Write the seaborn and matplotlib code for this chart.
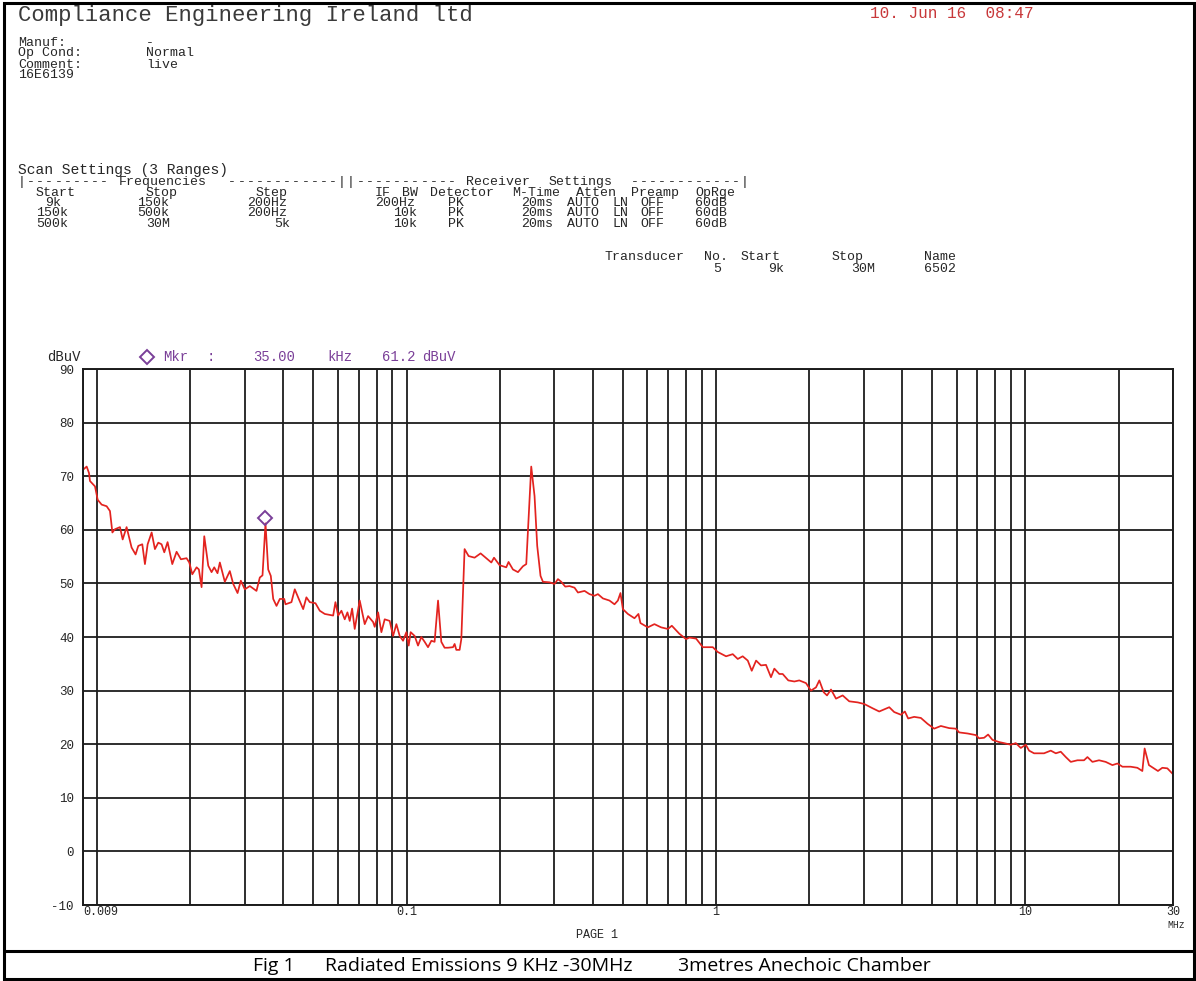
import matplotlib
matplotlib.use("Agg")
import matplotlib.pyplot as plt
from matplotlib.lines import Line2D
from matplotlib.patches import Rectangle
from matplotlib.ticker import NullFormatter
import seaborn as sns

# measured trace, frequency in MHz, level in dBuV
freq_mhz = [
    0.00900, 0.00925, 0.00941, 0.00948, 0.00984, 0.01004, 0.01034, 0.01073, 0.01100, 0.01120,
    0.01141, 0.01185, 0.01209, 0.01245, 0.01292, 0.01331, 0.01358, 0.01399, 0.01427, 0.01456,
    0.01500, 0.01537, 0.01576, 0.01615, 0.01648, 0.01689, 0.01749, 0.01806, 0.01865, 0.01945,
    0.01985, 0.02030, 0.02096, 0.02132, 0.02175, 0.02219, 0.02286, 0.02343, 0.02390, 0.02449,
    0.02492, 0.02586, 0.02684, 0.02753, 0.02843, 0.02913, 0.03001, 0.03115, 0.03273, 0.03355,
    0.03423, 0.03500, 0.03571, 0.03641, 0.03707, 0.03799, 0.03894, 0.04023, 0.04062, 0.04246,
    0.04352, 0.04484, 0.04633, 0.04745, 0.04866, 0.05077, 0.05242, 0.05440, 0.05791, 0.05890,
    0.06010, 0.06159, 0.06312, 0.06440, 0.06551, 0.06668, 0.06799, 0.07057, 0.07324, 0.07511,
    0.07795, 0.07889, 0.08091, 0.08291, 0.08498, 0.08819, 0.09045, 0.09270, 0.09500, 0.09743,
    0.09984, 0.1016, 0.1031, 0.1062, 0.1089, 0.1116, 0.1144, 0.1173, 0.1203, 0.1232,
    0.1264, 0.1295, 0.1327, 0.1361, 0.1413, 0.1430, 0.1448, 0.1484, 0.1503, 0.1540,
    0.1587, 0.1659, 0.1735, 0.1810, 0.1879, 0.1917, 0.1998, 0.2100, 0.2136, 0.2207,
    0.2291, 0.2378, 0.2437, 0.2529, 0.2592, 0.2644, 0.2710, 0.2759, 0.2898, 0.3008,
    0.3085, 0.3161, 0.3257, 0.3363, 0.3490, 0.3580, 0.3760, 0.3902, 0.4050, 0.4154,
    0.4311, 0.4527, 0.4699, 0.4819, 0.4913, 0.5002, 0.5191, 0.5452, 0.5616, 0.5700,
    0.6022, 0.6325, 0.6648, 0.6989, 0.7200, 0.7616, 0.8007, 0.8206, 0.8626, 0.9066,
    0.9766, 1.0135, 1.078, 1.133, 1.176, 1.220, 1.267, 1.305, 1.348, 1.398,
    1.451, 1.506, 1.544, 1.602, 1.643, 1.713, 1.792, 1.859, 1.954, 2.028,
    2.105, 2.158, 2.229, 2.285, 2.354, 2.443, 2.567, 2.696, 2.871, 3.015,
    3.209, 3.370, 3.498, 3.631, 3.767, 3.960, 4.079, 4.180, 4.371, 4.594,
    4.830, 5.073, 5.332, 5.671, 5.961, 6.108, 6.502, 6.915, 7.087, 7.356,
    7.578, 7.830, 8.224, 8.535, 8.972, 9.311, 9.665, 10.03, 10.28, 10.67,
    11.49, 12.08, 12.54, 13.01, 13.51, 14.02, 14.73, 15.47, 15.87, 16.47,
    17.30, 18.18, 19.11, 19.84, 20.59, 21.89, 23.01, 23.88, 24.29, 25.08,
    26.03, 26.82, 27.71, 28.76, 30.00,
]
level_dbuv = [
    71.2, 71.8, 70.6, 69.1, 68.1, 65.6, 64.7, 64.4, 63.5, 59.5,
    60.1, 60.5, 58.2, 60.5, 56.7, 55.4, 57.0, 57.3, 53.6, 57.3,
    59.5, 56.4, 57.6, 57.3, 55.8, 57.7, 53.6, 55.9, 54.5, 54.7,
    53.9, 51.7, 53.0, 52.6, 49.3, 58.8, 53.3, 52.1, 53.0, 51.9,
    53.9, 50.3, 52.3, 49.9, 48.2, 50.5, 48.9, 49.5, 48.6, 51.1,
    51.5, 61.2, 52.6, 51.4, 47.1, 45.8, 47.1, 47.1, 46.1, 46.5,
    48.9, 47.1, 45.2, 47.4, 46.5, 46.3, 44.9, 44.3, 44.0, 46.5,
    44.0, 44.9, 43.3, 44.6, 43.0, 45.3, 41.5, 46.8, 42.4, 43.9,
    42.8, 41.9, 44.6, 40.9, 43.3, 43.0, 40.2, 42.4, 40.2, 39.3,
    40.9, 38.4, 40.9, 40.2, 38.4, 40.0, 39.1, 38.1, 39.3, 39.1,
    46.8, 39.1, 38.0, 38.0, 38.1, 38.7, 37.6, 37.6, 39.6, 56.4,
    55.1, 54.8, 55.6, 54.7, 53.9, 54.8, 53.4, 53.0, 54.0, 52.6,
    52.1, 53.2, 53.6, 71.8, 66.3, 57.0, 51.4, 50.3, 50.2, 49.9,
    50.8, 50.3, 49.4, 49.5, 49.2, 48.3, 48.6, 48.0, 47.7, 48.0,
    47.2, 46.8, 46.1, 46.8, 48.2, 45.2, 44.3, 43.5, 44.3, 42.6,
    41.8, 42.4, 41.8, 41.5, 42.1, 40.6, 39.6, 39.9, 39.7, 38.1,
    38.1, 37.2, 36.4, 36.8, 35.9, 36.4, 35.6, 33.7, 35.6, 34.7,
    34.8, 32.5, 34.1, 33.1, 33.1, 31.9, 31.7, 31.9, 31.4, 30.0,
    30.6, 31.9, 29.7, 29.1, 30.2, 28.5, 29.1, 28.0, 27.8, 27.5,
    26.7, 26.1, 26.5, 26.9, 26.0, 25.5, 26.1, 24.8, 25.1, 24.9,
    23.8, 22.9, 23.4, 23.0, 22.9, 22.2, 22.0, 21.7, 21.1, 21.2,
    21.8, 20.8, 20.4, 20.2, 19.9, 20.2, 19.3, 19.9, 18.8, 18.3,
    18.3, 18.8, 18.3, 18.6, 17.6, 16.7, 17.0, 17.0, 17.6, 16.7,
    17.0, 16.7, 16.1, 16.4, 15.8, 15.8, 15.6, 15.0, 19.2, 16.1,
    15.5, 15.0, 15.6, 15.5, 14.4,
]

marker_freq = 0.035
marker_symbol_level = 62.2

x_tick_values = [0.009, 0.1, 1, 10, 30]
x_tick_labels = ["0.009", "0.1", "1", "10", "30"]
y_tick_values = [-10, 0, 10, 20, 30, 40, 50, 60, 70, 80, 90]

# printout rows as (character column, text) on the receiver's fixed text grid
info_rows = [
    [(0, "Manuf:"), (14, "-")],
    [(0, "Op Cond:"), (14, "Normal")],
    [(0, "Comment:"), (14, "live")],
    [(0, "16E6139")],
]
scan_rows = [
    [(0, "Scan Settings (3 Ranges)")],
    [(0, "|---------"), (11, "Frequencies"), (23, "------------||-----------"),
     (49, "Receiver"), (58, "Settings"), (67, "------------|")],
    [(2, "Start"), (14, "Stop"), (26, "Step"), (39, "IF"), (42, "BW"), (45, "Detector"),
     (54, "M-Time"), (61, "Atten"), (67, "Preamp"), (74, "OpRge")],
    [(3, "9k"), (13, "150k"), (25, "200Hz"), (39, "200Hz"), (47, "PK"),
     (55, "20ms"), (60, "AUTO"), (65, "LN"), (68, "OFF"), (74, "60dB")],
    [(2, "150k"), (13, "500k"), (25, "200Hz"), (41, "10k"), (47, "PK"),
     (55, "20ms"), (60, "AUTO"), (65, "LN"), (68, "OFF"), (74, "60dB")],
    [(2, "500k"), (14, "30M"), (28, "5k"), (41, "10k"), (47, "PK"),
     (55, "20ms"), (60, "AUTO"), (65, "LN"), (68, "OFF"), (74, "60dB")],
]
transducer_rows = [
    [(64, "Transducer"), (75, "No."), (79, "Start"), (89, "Stop"), (99, "Name")],
    [(76, "5"), (82, "9k"), (91, "30M"), (99, "6502")],
]
marker_tokens = [(163, "Mkr"), (207, ":"), (253, "35.00"), (327, "kHz"), (382, "61.2"), (422, "dBuV")]

W, H = 1196, 981
MONO = "Liberation Mono"
TRACE = "#e3231f"
PURPLE = "#7a3f98"
INK = "#262626"
GRID_X0, GRID_CW = 18, 9.15

sns.set_theme(style="white")
plt.rcParams["font.family"] = ["Liberation Mono", "DejaVu Sans"]

fig = plt.figure(figsize=(W / 100, H / 100), dpi=100)
fig.patch.set_facecolor("white")


def put(px, py, s, va="center", **kw):
    kw.setdefault("ha", "left")
    kw.setdefault("color", INK)
    kw.setdefault("family", MONO)
    fig.text(px / W, 1 - py / H, s, va=va, **kw)


def put_row(py, row, size=9.5, **kw):
    # the printout font is wider than Liberation Mono at this height, so each
    # word sits on the grid; dashes and bars go one character at a time.
    # whole-pixel baselines keep the words of one row level
    base = round(py + 3.5)
    for col, token in row:
        if set(token) <= set("-|"):
            for k, ch in enumerate(token):
                put(round(GRID_X0 + (col + k) * GRID_CW), base, ch, va="baseline", fontsize=size, **kw)
        else:
            put(round(GRID_X0 + col * GRID_CW), base, token, va="baseline", fontsize=size, **kw)


ax = fig.add_axes([83 / W, 1 - 905 / H, (1173 - 83) / W, (905 - 369) / H])

sns.lineplot(x=freq_mhz, y=level_dbuv, sort=False, estimator=None,
             color=TRACE, linewidth=1.25, ax=ax)
ax.plot([marker_freq], [marker_symbol_level], marker="D", ms=7.5, mfc="none",
        mec=PURPLE, mew=1.4, ls="none")

ax.set_xscale("log")
ax.set_xlim(0.009, 30)
ax.set_ylim(-10, 90)

minor_lines = [m * 10.0 ** e for e in (-2, -1, 0, 1) for m in range(1, 10)
               if 0.009 < m * 10.0 ** e < 30 and m * 10.0 ** e not in x_tick_values]
ax.set_xticks(x_tick_values)
ax.set_xticklabels(x_tick_labels)
ax.set_xticks(minor_lines, minor=True)
ax.xaxis.set_minor_formatter(NullFormatter())
ax.set_yticks(y_tick_values)
ax.set_yticklabels([str(v) for v in y_tick_values])
ax.grid(True, which="both", color="#1c1c1c", linewidth=1.3)
ax.tick_params(axis="both", which="both", length=0)
ax.tick_params(axis="y", pad=6.5, labelsize=9, labelcolor=INK)
ax.tick_params(axis="x", pad=1.0, labelsize=8.5, labelcolor=INK)
ax.get_xticklabels()[0].set_horizontalalignment("left")
for sp in ax.spines.values():
    sp.set_visible(True)
    sp.set_color("#1c1c1c")
    sp.set_linewidth(1.4)
ax.set_xlabel("")
ax.set_ylabel("")

# header text
put(18, 16, "Compliance Engineering Ireland ltd", fontsize=16, color="#3a3a3a")
put(870, 14, "10. Jun 16  08:47", fontsize=11.5, color="#c8383a")
for i, row in enumerate(info_rows):
    put_row(42 + i * 11, row)
for i, row in enumerate(scan_rows):
    put_row(171 + i * 10.5, row, size=10.5 if i == 0 else 9.5)
for i, row in enumerate(transducer_rows):
    put_row(257 + i * 11.5, row)

# marker readout above the plot
fig.add_artist(Line2D([147 / W], [1 - 357 / H], marker="D", ms=7.5, mfc="none",
                      mec=PURPLE, mew=1.4, ls="none", transform=fig.transFigure))
for px, token in marker_tokens:
    put(px, 357, token, fontsize=10, color=PURPLE)
put(47, 357, "dBuV", fontsize=10)
put(1176, 925, "MHz", fontsize=7, ha="center")
put(597, 935, "PAGE 1", fontsize=8.5, ha="center")

# page frame and caption
fig.add_artist(Rectangle((4 / W, 1 - 979 / H), (1194 - 4) / W, (979 - 3) / H,
                         fill=False, lw=2.2, edgecolor="black", transform=fig.transFigure))
fig.add_artist(Line2D([4 / W, 1194 / W], [1 - 951 / H, 1 - 951 / H], lw=2.2,
                      color="black", transform=fig.transFigure))
put(253, 966, "Fig 1", fontsize=14, family="Open Sans", color="black")
put(325, 966, "Radiated Emissions 9 KHz -30MHz", fontsize=14, family="Open Sans", color="black")
put(678, 966, "3metres Anechoic Chamber", fontsize=14, family="Open Sans", color="black")

fig.savefig("out.png", dpi=100, facecolor="white")
